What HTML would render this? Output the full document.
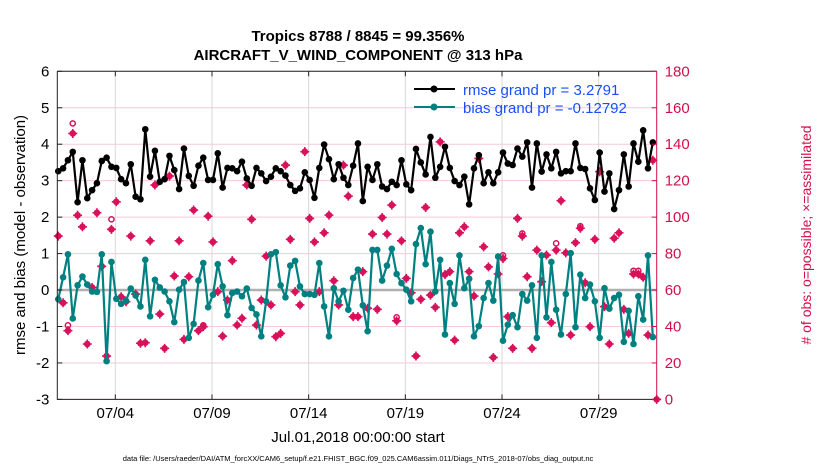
<!DOCTYPE html>
<html><head><meta charset="utf-8"><style>
body{margin:0;background:#fff;width:830px;height:470px;overflow:hidden;font-family:"Liberation Sans",sans-serif}
</style></head><body>
<svg id="chart" width="830" height="470" xmlns="http://www.w3.org/2000/svg" font-family="Liberation Sans, sans-serif">
<rect width="830" height="470" fill="#fff"/>
<text x="358" y="41" font-size="15" font-weight="bold" text-anchor="middle">Tropics 8788 / 8845 = 99.356%</text>
<text x="358" y="60" font-size="15" font-weight="bold" text-anchor="middle">AIRCRAFT_V_WIND_COMPONENT @ 313 hPa</text>
<g id="grid"></g><g id="marks"></g><g id="axes"></g>
<text transform="translate(25,235) rotate(-90)" font-size="15" text-anchor="middle">rmse and bias (model - observation)</text>
<text transform="translate(811,235) rotate(-90)" font-size="14" fill="#d0104c" text-anchor="middle"># of obs: o=possible; ×=assimilated</text>
<text x="358" y="442" font-size="15" text-anchor="middle">Jul.01,2018 00:00:00 start</text>
<text x="358" y="461" font-size="7.5" text-anchor="middle">data file: /Users/raeder/DAI/ATM_forcXX/CAM6_setup/f.e21.FHIST_BGC.f09_025.CAM6assim.011/Diags_NTrS_2018-07/obs_diag_output.nc</text>
<g>
<line x1="414" y1="89" x2="455" y2="89" stroke="#000" stroke-width="2"/><circle cx="434" cy="89" r="3.5" fill="#000"/>
<text x="463" y="95" font-size="15" fill="#1a4dff">rmse grand pr = 3.2791</text>
<line x1="414" y1="107" x2="455" y2="107" stroke="#008080" stroke-width="2"/><circle cx="434" cy="107" r="3.5" fill="#008080"/>
<text x="463" y="113" font-size="15" fill="#1a4dff">bias grand pr = -0.12792</text>
</g>
</svg>
<script>
const dateLabels=["07/04","07/09","07/14","07/19","07/24","07/29"];
const dateTickDays=[3,8,13,18,23,28];
const leftTicks=[-3,-2,-1,0,1,2,3,4,5,6];
const rightTicks=[0,20,40,60,80,100,120,140,160,180];
const rmse=[3.26,3.34,3.56,3.79,2.41,3.56,2.52,2.74,2.93,3.54,3.63,3.38,3.35,3.04,2.93,3.45,2.56,2.49,4.41,3.11,3.82,2.97,3.04,3.68,3.29,2.77,3.88,3.13,2.86,3.41,3.63,3.02,
3.02,3.75,2.81,3.35,3.34,3.26,3.52,3.06,2.86,3.35,3.2,2.99,3.11,3.34,3.26,3.14,2.88,2.72,2.79,3.23,3.02,2.53,3.35,3.99,3.59,3.04,3.45,3.08,2.88,3.41,4.02,
2.44,3.38,3.02,3.45,2.84,2.77,2.97,2.88,3.56,2.9,2.74,3.87,3.5,3.17,4.2,3.08,3.38,3.93,3.35,2.99,2.88,3.11,2.35,3.34,3.7,2.93,3.23,2.93,3.23,3.77,
3.47,3.43,3.88,3.66,4.05,2.81,4.02,3.25,3.72,3.34,3.79,3.2,3.26,3.26,4.02,3.35,3.32,2.79,2.47,3.77,2.7,3.2,2.22,2.74,3.72,2.84,4.02,3.52,4.38,3.34,4.05];
const bias=[-0.25,0.35,0.98,-0.78,0.13,0.37,0.15,-0.04,-0.05,0.98,-1.95,0.77,-0.24,-0.38,-0.29,0.04,-0.15,-0.45,0.83,-0.72,0.28,0.07,-0.04,-0.31,-0.88,0.01,0.22,-1.31,-0.93,0.26,0.74,-0.47,
-0.13,0.71,0.1,-0.69,-0.08,-0.04,-0.17,0.04,-0.49,-0.67,-1.27,-0.31,0.98,1.04,0.13,-0.2,0.67,0.8,0.1,-0.11,-0.11,-0.13,0.74,-0.45,-1.27,0.05,-0.31,-0.02,-0.54,0.33,0.56,
-0.42,-1.13,1.1,1.1,0.26,0.67,1.13,0.44,0.19,0.01,-0.31,1.26,1.7,0.71,1.6,-0.04,0.83,-1.22,0.19,-0.38,0.95,0.05,0.31,-1.27,-0.99,-0.22,0.19,-0.29,0.92,-1.39,
-0.95,-0.69,-1.02,-0.11,-0.29,0.13,-1.31,0.95,-0.75,0.77,-0.54,-1.22,-0.11,1.01,-1.02,0.42,-0.22,0.15,-0.31,-1.31,0.05,-0.51,-0.22,-0.13,-1.42,-0.57,-1.48,-0.17,-0.81,0.95,-1.29];
const obsAssim=[89.6,53,37.7,145.9,101,94.7,30.4,61.4,102.4,73,23.8,93.3,108.4,56.3,53.6,89.6,57.8,30.8,31.1,87,117.6,46.8,28,122.5,67.7,87,32.9,67.3,103.9,37.7,39.9,100.5,
86.4,59.1,34.7,54.5,76.1,40.8,44.5,117.6,98.8,40.8,54.5,78.6,51.8,34.4,36.2,128.5,87.8,59.1,51.8,135.9,99.3,86.4,59.1,91.4,101.1,65.1,51.8,128.5,111.5,45.4,45.4,
70.1,50,90.7,49.4,99.8,90.7,106.6,43.1,87,66.4,58.5,23.8,54.9,105.3,57.2,50.5,141.3,68.5,70.1,32.5,91.4,94.7,70.1,56.7,132.2,83.7,72.7,23,68.8,77.3,45.4,
28,99.3,89.6,67.3,28,81.9,64.6,79.2,42.1,81.9,109,80.4,35.3,86,93.9,64,39.9,87.8,124.9,50.9,30.4,88.4,91.4,49.4,36.2,68.8,68.8,67,35.3,131.2,0];
const obsPossible=obsAssim.map(v=>v);
obsPossible[2]=40.6;obsPossible[3]=151.4;obsPossible[11]=98.8;obsPossible[30]=40.6;obsPossible[70]=45;obsPossible[92]=79;obsPossible[96]=91;obsPossible[103]=85.6;obsPossible[108]=95;obsPossible[119]=70.5;obsPossible[120]=70.5;

const X0=57.3,X1=656.7,Y0=71.3,Y1=399.4;
const xDay=d=>X0+(d/31)*(X1-X0);
const xi=i=>xDay(0.05+i*0.25);
const yL=v=>Y1-(v+3)/9*(Y1-Y0);
const yR=v=>Y1-v/180*(Y1-Y0);
const NS="http://www.w3.org/2000/svg";
function mk(parent,tag,attrs){const e=document.createElementNS(NS,tag);for(const k in attrs)e.setAttribute(k,attrs[k]);parent.appendChild(e);return e;}
const grid=document.getElementById('grid'),marks=document.getElementById('marks'),axes=document.getElementById('axes');
rightTicks.forEach(t=>{const l=mk(grid,'line',{x1:X0,x2:X1,y1:yR(t),y2:yR(t),stroke:'#f6c9d8','stroke-width':1});

});
dateTickDays.forEach(d=>{const l=mk(grid,'line',{x1:xDay(d),x2:xDay(d),y1:Y0,y2:Y1,stroke:'#d8d8d8','stroke-width':1});

});
const zl=mk(grid,'line',{x1:X0,x2:X1,y1:yL(0),y2:yL(0),stroke:'#b0b0b0','stroke-width':2.5});


// obs markers
obsAssim.forEach((v,i)=>{const x=i<rmse.length?xi(i):X1;const y=yR(v);
const g=mk(marks,'g',{});


mk(g,'circle',{cx:x,cy:y,r:3.3,fill:'#d9105a'});
mk(g,'path',{d:`M${x-4.5} ${y}H${x+4.5}M${x} ${y-4.5}V${y+4.5}`,stroke:'#d9105a','stroke-width':1.6});});
obsPossible.forEach((v,i)=>{if(Math.abs(v-obsAssim[i])<0.5)return;const x=xi(i);
const c=mk(marks,'circle',{cx:x,cy:yR(v),r:2.6,fill:'none',stroke:'#d9105a','stroke-width':1.5});

});
function series(arr,color,name){
const p=mk(marks,'polyline',{points:arr.map((v,i)=>xi(i)+','+yL(v)).join(' '),fill:'none',stroke:color,'stroke-width':2.2,'stroke-linejoin':'round'});


arr.forEach((v,i)=>{const c=mk(marks,'circle',{cx:xi(i),cy:yL(v),r:3.3,fill:color});

});}
series(bias,'#008080','bias');
series(rmse,'#000','rmse');
// axes
const fr=mk(axes,'path',{d:`M${X0} ${Y0}H${X1}M${X0} ${Y0}V${Y1}H${X1}`,stroke:'#222',fill:'none','stroke-width':1});


const ra=mk(axes,'line',{x1:X1,x2:X1,y1:Y0,y2:Y1,stroke:'#d0104c','stroke-width':1});


leftTicks.forEach(t=>{mk(axes,'line',{x1:X0,x2:X0+5,y1:yL(t),y2:yL(t),stroke:'#222'});
const tx=mk(axes,'text',{x:X0-8,y:yL(t)+5,'font-size':15,'text-anchor':'end'});tx.textContent=t;

});
rightTicks.forEach(t=>{mk(axes,'line',{x1:X1-5,x2:X1,y1:yR(t),y2:yR(t),stroke:'#d0104c'});
const tx=mk(axes,'text',{x:X1+8,y:yR(t)+5,'font-size':15,fill:'#d0104c'});tx.textContent=t;

});
dateTickDays.forEach((d,k)=>{mk(axes,'line',{x1:xDay(d),x2:xDay(d),y1:Y1,y2:Y1-5,stroke:'#222'});mk(axes,'line',{x1:xDay(d),x2:xDay(d),y1:Y0,y2:Y0+5,stroke:'#222'});
const tx=mk(axes,'text',{x:xDay(d),y:418,'font-size':15,'text-anchor':'middle'});tx.textContent=dateLabels[k];

});
</script>
</body></html>
